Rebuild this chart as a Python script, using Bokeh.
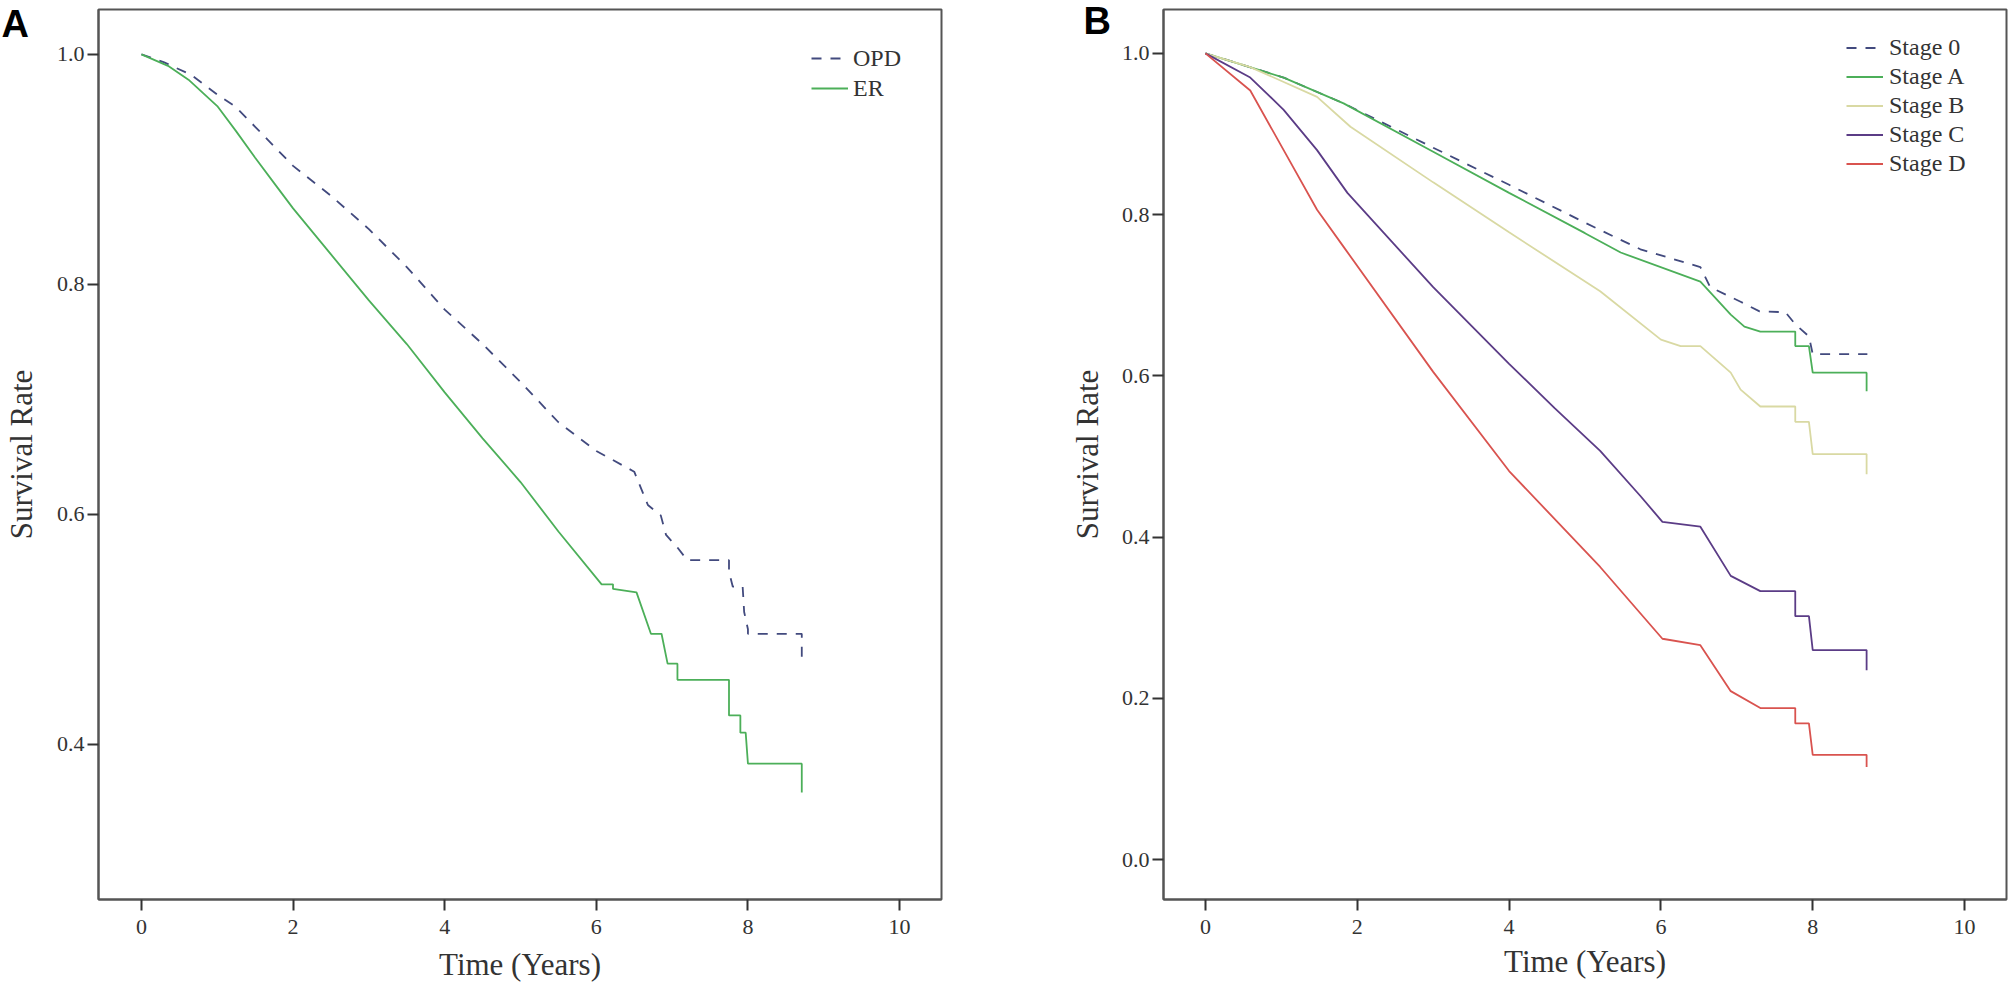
from bokeh.plotting import figure
from bokeh.layouts import row
from bokeh.models import Range1d, FixedTicker, NumeralTickFormatter, Legend, LegendItem, Label
from bokeh.embed import file_html
from bokeh.resources import INLINE

# ---------------- data ----------------
# Panel A : OPD vs ER
opd_t = [0.0, 0.3, 0.66, 1.0, 1.23, 1.5, 1.75, 2.0, 2.5, 3.0, 3.5, 4.0, 4.5, 5.0, 5.5, 6.0, 6.5,
         6.68, 6.85, 6.92, 7.07, 7.2, 7.75, 7.75, 7.8, 7.93, 7.95, 8.0, 8.0, 8.71, 8.71]
opd_s = [1.0, 0.993, 0.982, 0.965, 0.955, 0.937, 0.92, 0.903, 0.877, 0.848, 0.815, 0.778, 0.748, 0.715, 0.68, 0.655, 0.637,
         0.608, 0.599, 0.582, 0.571, 0.56, 0.56, 0.55, 0.537, 0.537, 0.515, 0.50, 0.496, 0.496, 0.475]
er_t = [0.0, 0.35, 0.62, 1.0, 1.25, 1.5, 1.75, 2.0, 2.5, 3.0, 3.5, 4.0, 4.5, 5.0, 5.5, 6.07,
        6.22, 6.22, 6.53, 6.72, 6.86, 6.94, 7.07, 7.07, 7.75, 7.75, 7.9, 7.9, 7.97, 8.0, 8.71, 8.71]
er_s = [1.0, 0.99, 0.978, 0.955, 0.933, 0.91, 0.888, 0.866, 0.826, 0.786, 0.748, 0.706, 0.666, 0.628, 0.585, 0.539,
        0.539, 0.535, 0.532, 0.496, 0.496, 0.47, 0.47, 0.456, 0.456, 0.425, 0.425, 0.41, 0.41, 0.383, 0.383, 0.358]

# Panel B : stages
s0_t = [0.0, 1.03, 1.82, 3.0, 4.0, 5.0, 5.73, 6.52, 6.65, 7.05, 7.3, 7.64, 7.77, 7.95, 8.0, 8.72]
s0_s = [1.0, 0.97, 0.938, 0.883, 0.837, 0.79, 0.757, 0.735, 0.71, 0.692, 0.68, 0.679, 0.664, 0.649, 0.627, 0.627]
sa_t = [0.0, 1.03, 1.82, 3.0, 4.0, 5.0, 5.47, 6.52, 6.92, 7.1, 7.31, 7.77, 7.77, 7.95, 8.0, 8.71, 8.71]
sa_s = [1.0, 0.97, 0.938, 0.878, 0.827, 0.777, 0.753, 0.717, 0.676, 0.661, 0.655, 0.655, 0.637, 0.637, 0.604, 0.604, 0.581]
sb_t = [0.0, 0.59, 1.47, 1.91, 3.0, 4.0, 5.2, 6.0, 6.26, 6.52, 6.92, 7.05, 7.31, 7.77, 7.77, 7.95, 8.0, 8.71, 8.71]
sb_s = [1.0, 0.983, 0.946, 0.909, 0.84, 0.778, 0.705, 0.645, 0.637, 0.637, 0.604, 0.583, 0.562, 0.562, 0.543, 0.543, 0.503, 0.503, 0.478]
sc_t = [0.0, 0.59, 1.03, 1.47, 1.87, 3.0, 4.0, 4.6, 5.2, 5.73, 6.02, 6.52, 6.92, 7.31, 7.77, 7.77, 7.95, 8.0, 8.71, 8.71]
sc_s = [1.0, 0.97, 0.93, 0.88, 0.827, 0.71, 0.615, 0.56, 0.507, 0.451, 0.419, 0.413, 0.352, 0.333, 0.333, 0.302, 0.302, 0.26, 0.26, 0.235]
sd_t = [0.0, 0.59, 1.03, 1.47, 1.82, 3.0, 4.0, 5.2, 6.02, 6.52, 6.92, 7.31, 7.77, 7.77, 7.95, 8.0, 8.71, 8.71]
sd_s = [1.0, 0.954, 0.88, 0.806, 0.76, 0.605, 0.482, 0.363, 0.274, 0.266, 0.209, 0.188, 0.188, 0.169, 0.169, 0.13, 0.13, 0.115]

x_ticks = [0, 2, 4, 6, 8, 10]
a_y_ticks = [0.4, 0.6, 0.8, 1.0]
b_y_ticks = [0.0, 0.2, 0.4, 0.6, 0.8, 1.0]

SERIF = "Liberation Serif"
AX = "#555555"
TXT = "#333333"


def style(p, yticks, xlab_standoff, ylab_standoff):
    p.xgrid.visible = False
    p.ygrid.visible = False
    p.outline_line_color = AX
    p.outline_line_width = 2
    p.background_fill_color = "white"
    p.border_fill_color = "white"
    for ax in (p.xaxis[0], p.yaxis[0]):
        ax.axis_line_color = AX
        ax.axis_line_width = 2
        ax.major_tick_line_color = "#333333"
        ax.major_tick_line_width = 2
        ax.major_tick_in = 0
        ax.major_tick_out = 11
        ax.minor_tick_line_color = None
        ax.major_label_text_font = SERIF
        ax.major_label_text_font_size = "22px"
        ax.major_label_text_color = TXT
        ax.axis_label_text_font = SERIF
        ax.axis_label_text_font_size = "31px"
        ax.axis_label_text_font_style = "normal"
        ax.axis_label_text_color = TXT
    p.xaxis[0].ticker = FixedTicker(ticks=x_ticks)
    p.xaxis[0].formatter = NumeralTickFormatter(format="0")
    p.xaxis[0].major_label_standoff = 9
    p.xaxis[0].axis_label_standoff = xlab_standoff
    p.yaxis[0].ticker = FixedTicker(ticks=yticks)
    p.yaxis[0].formatter = NumeralTickFormatter(format="0.0")
    p.yaxis[0].major_label_standoff = 3
    p.yaxis[0].axis_label_standoff = ylab_standoff
    p.xaxis[0].axis_label = "Time (Years)"
    p.yaxis[0].axis_label = "Survival Rate"


# ---------------- Panel A ----------------
pA = figure(width=1010, height=988, output_backend="svg", toolbar_location=None,
            x_range=Range1d(-0.5665, 10.553), y_range=Range1d(0.2649, 1.039),
            min_border_left=97, min_border_right=69, min_border_top=5, min_border_bottom=89)
style(pA, a_y_ticks, 10, 15)
rA1 = pA.line(opd_t, opd_s, line_color="#424a7e", line_width=1.8, line_dash="10 9")
rA2 = pA.line(er_t, er_s, line_color="#4caf59", line_width=1.8)
legA = Legend(items=[LegendItem(label="OPD", renderers=[rA1]), LegendItem(label="ER", renderers=[rA2])],
              location=(713, 796), border_line_color=None, background_fill_alpha=0,
              label_text_font=SERIF, label_text_font_size="24px", label_text_color=TXT,
              glyph_width=37, glyph_height=30, label_height=30, label_standoff=5,
              spacing=0, padding=0, margin=0)
pA.add_layout(legA)
# panel letter, kept in a side panel so that it is not clipped to the frame
pA.add_layout(Label(x=-1.845, y=1.026, text="A", text_align="left", text_baseline="middle",
                    text_font="Liberation Sans", text_font_style="bold", text_font_size="38px",
                    text_color="black"), "right")

# ---------------- Panel B ----------------
pB = figure(width=998, height=988, output_backend="svg", toolbar_location=None,
            x_range=Range1d(-0.553, 10.553), y_range=Range1d(-0.0494, 1.0544),
            min_border_left=153, min_border_right=2, min_border_top=9, min_border_bottom=86)
style(pB, b_y_ticks, 7, 14)
rB0 = pB.line(s0_t, s0_s, line_color="#424a7e", line_width=1.8, line_dash="10 9")
rBA = pB.line(sa_t, sa_s, line_color="#4caf59", line_width=1.8)
rBB = pB.line(sb_t, sb_s, line_color="#d9d9a3", line_width=1.8)
rBC = pB.line(sc_t, sc_s, line_color="#5b3c86", line_width=1.8)
rBD = pB.line(sd_t, sd_s, line_color="#d9534f", line_width=1.8)
legB = Legend(items=[LegendItem(label="Stage 0", renderers=[rB0]),
                     LegendItem(label="Stage A", renderers=[rBA]),
                     LegendItem(label="Stage B", renderers=[rBB]),
                     LegendItem(label="Stage C", renderers=[rBC]),
                     LegendItem(label="Stage D", renderers=[rBD])],
              location=(683, 721), border_line_color=None, background_fill_alpha=0,
              label_text_font=SERIF, label_text_font_size="24px", label_text_color=TXT,
              glyph_width=37, glyph_height=29, label_height=29, label_standoff=6,
              spacing=0, padding=0, margin=0)
pB.add_layout(legB)
pB.add_layout(Label(x=-1.607, y=1.0396, text="B", text_align="left", text_baseline="middle",
                    text_font="Liberation Sans", text_font_style="bold", text_font_size="38px",
                    text_color="black"), "left")

layout = row(pA, pB)
open("out.html", "w").write(file_html(layout, INLINE))
